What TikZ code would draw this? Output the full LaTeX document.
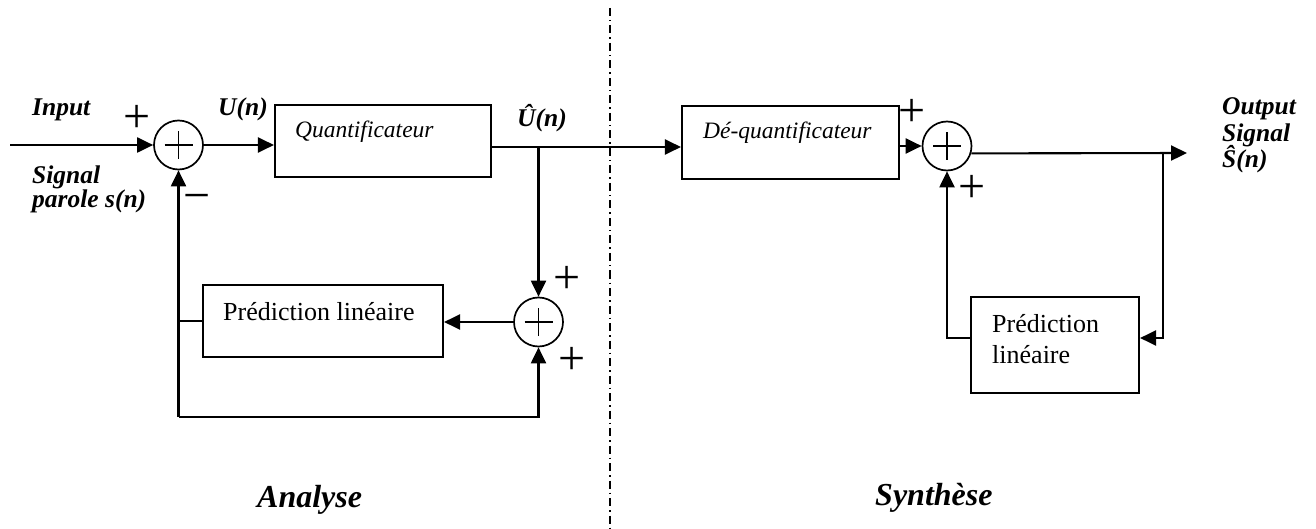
\documentclass[tikz,border=0pt]{standalone}
\usepackage{fontspec}
\setmainfont{Liberation Serif}
\usetikzlibrary{arrows.meta}
\begin{document}
\begin{tikzpicture}[x=1pt,y=-1pt,
  wire/.style={line width=2.1pt},
  arr/.style={wire,-{Triangle[length=16pt,width=15pt]}},
  blk/.style={draw,line width=2.1pt,inner sep=0pt},
  sumnode/.style={draw,circle,line width=1.7pt,minimum size=49pt,inner sep=0pt,
    path picture={
      \draw[line width=1.6pt]
        ([xshift=-14pt]path picture bounding box.center) -- ([xshift=14pt]path picture bounding box.center)
        ([yshift=-14pt]path picture bounding box.center) -- ([yshift=14pt]path picture bounding box.center);}},
  lbl/.style={font=\fontsize{25.5}{30}\selectfont\bfseries\itshape,inner sep=0pt,anchor=base west},
  big/.style={font=\fontsize{32}{38}\selectfont\bfseries\itshape,inner sep=0pt,anchor=base west},
  boxtxt/.style={font=\fontsize{26}{30}\selectfont,inner sep=0pt,anchor=base west},
  boxit/.style={font=\fontsize{23.5}{30}\selectfont\itshape,inner sep=0pt,anchor=base west},
  sign/.style={font=\fontsize{48}{48}\selectfont,inner sep=0pt,anchor=base},
  sep/.style={line width=1.6pt,dash pattern=on 8pt off 4pt on 1.5pt off 4pt}
]
\useasboundingbox (0,0) rectangle (1316,529);

% ---------- analysis side ----------
\coordinate (in) at (10,145);
\node[sumnode] (s1) at (178.5,145) {};
\node[blk,minimum width=216pt,minimum height=72pt] (q) at (383,141) {};
\node[boxit] (qt) at (295,138) {Quantificateur};
\coordinate (j1) at (538.5,147);
\node[sumnode] (s2) at (538.5,322) {};
\node[blk,minimum width=240pt,minimum height=72pt] (p1) at (323,321) {};
\node[boxtxt] (p1t) at (223,320) {Prédiction linéaire};
\coordinate (b) at (178.5,417);

\draw[arr] (in) -- (s1.west);
\draw[arr] (s1.east) -- (s1.east -| q.west);
\draw[arr] (j1) -- (s2.north);
\draw[arr] (s2.west) -- (s2.west -| p1.east);
\draw[wire] (p1.west) -- (p1.west -| b);
\draw[arr] (b) -- (s1.south);
\draw[arr] (b) -| (s2.south);

% ---------- link between the two halves ----------
\node[blk,minimum width=217pt,minimum height=73pt] (d) at (790.5,142.5) {};
\node[boxit] (dt) at (703,139) {Dé-quantificateur};
\draw[arr] (q.east |- j1) -- (j1 -| d.west);

% ---------- synthesis side ----------
\node[sumnode] (s3) at (947,146) {};
\node[blk,minimum width=168pt,minimum height=96pt] (p2) at (1055,345) {};
\node[boxtxt] (p2a) at (992,332) {Prédiction};
\node[boxtxt] (p2b) at (992,363) {linéaire};
\coordinate (out) at (1187,153);
\coordinate (j2) at (1163,153);
\coordinate (fb) at (1163,338);

\draw[arr] (d.east |- s3) -- (s3.west);
\draw[arr] (s3.-17) -- (out);
\draw[arr] (j2) -- (fb) -- (fb -| p2.east);
\draw[arr] (p2.west |- fb) -| (s3.south);

% ---------- separator ----------
\coordinate (septop) at (610,8);
\coordinate (sepbot) at (610,529);
\draw[sep] (septop) -- (sepbot);

% ---------- signal labels ----------
\node[lbl] (lin) at (32,116) {Input};
\node[lbl] (lsig) at (32,184) {Signal};
\node[lbl] (lpar) at (32,208) {parole s(n)};
\node[lbl] (lu) at (218,116) {U(n)};
\node[lbl] (luh) at (517,127) {Û(n)};
\node[lbl] (lout) at (1222,115) {Output};
\node[lbl] (lsig2) at (1222,142) {Signal};
\node[lbl] (lsh) at (1222,168) {Ŝ(n)};
\node[big] (lana) at (257,507) {Analyse};
\node[big] (lsyn) at (875,505) {Synthèse};

% ---------- signs at the adders ----------
\node[sign] (g1) at (137,133) {+};
\node[sign] (g2) at (197,212) {−};
\node[sign] (g3) at (567,293) {+};
\node[sign] (g4) at (572,374) {+};
\node[sign] (g5) at (912,127) {+};
\node[sign] (g6) at (972,203) {+};
\end{tikzpicture}
\end{document}
